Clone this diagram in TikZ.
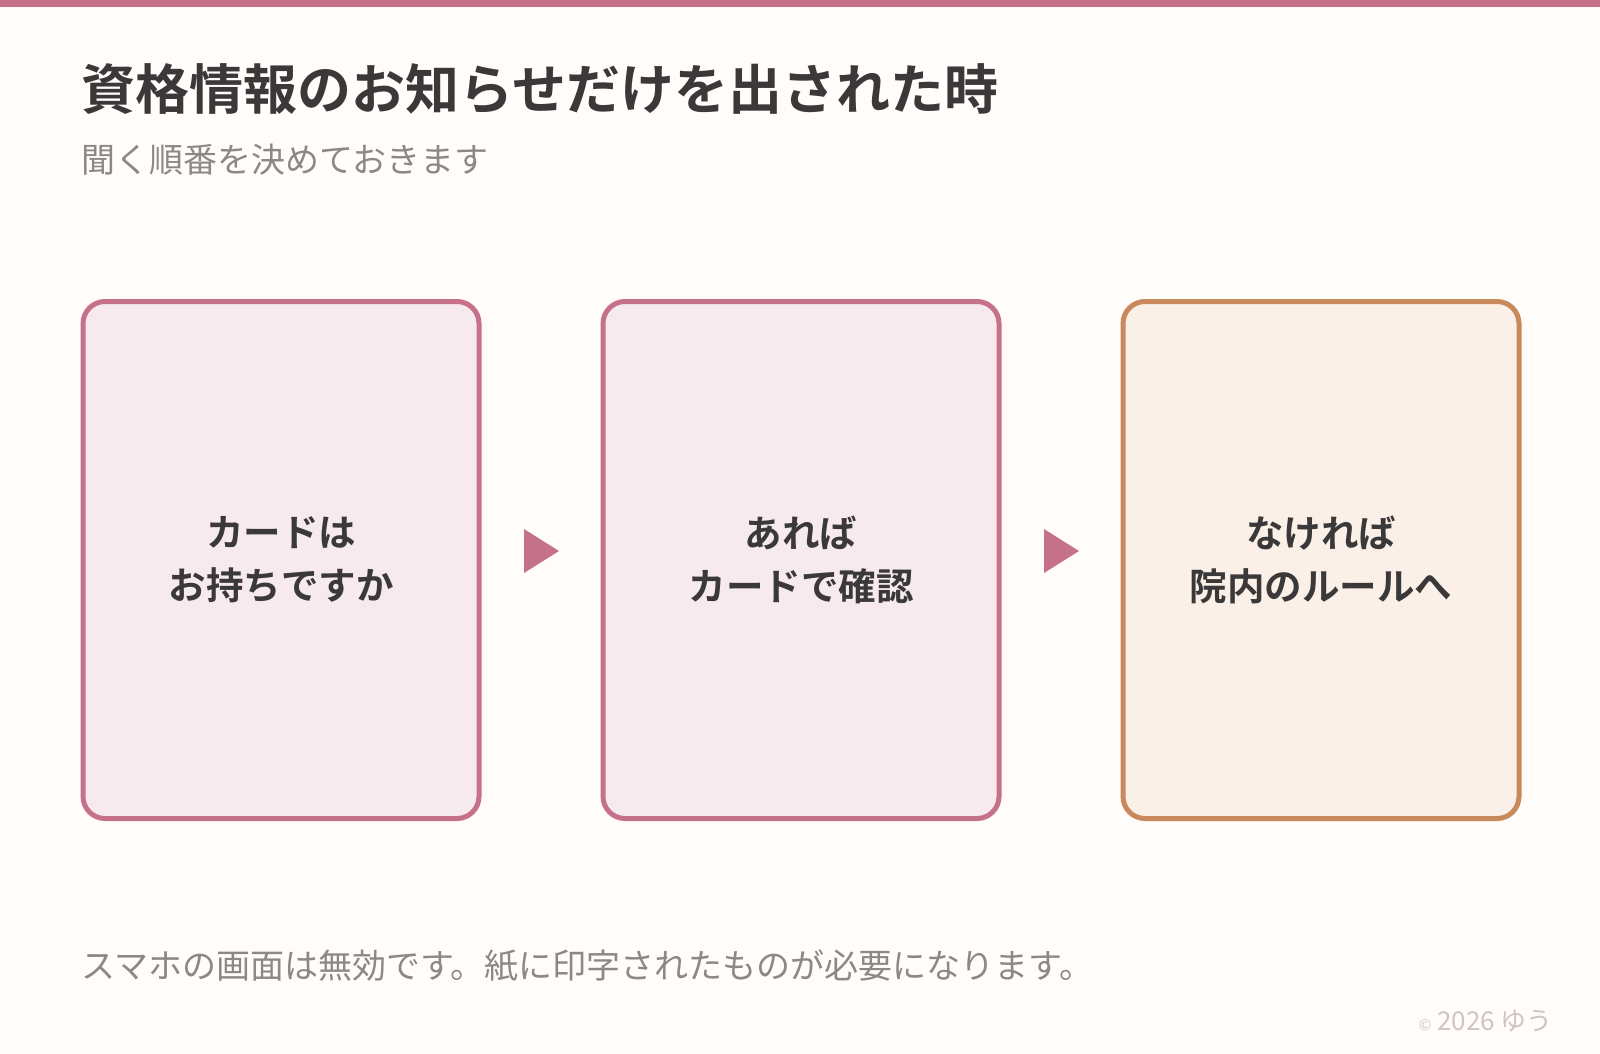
\documentclass[tikz,border=0pt]{standalone}
\usepackage{fontspec}
\usetikzlibrary{calc}
\setmainfont{Noto Sans CJK JP}
\newfontfamily\jpb{Noto Sans CJK JP Bold}
\definecolor{bg}{HTML}{FFFCFA}
\definecolor{rose}{HTML}{C6718A}
\definecolor{rosefill}{HTML}{F6EAEF}
\definecolor{ora}{HTML}{C98A5B}
\definecolor{orafill}{HTML}{FBF0E8}
\definecolor{dark}{HTML}{3A3838}
\definecolor{grey}{HTML}{8C8888}
\definecolor{light}{HTML}{CFC3C8}
\begin{document}
\begin{tikzpicture}[x=1pt,y=-1pt,
  card/.style={draw=rose,fill=rosefill,line width=5pt,rounded corners=22pt,minimum width=396pt,minimum height=517pt,inner sep=0pt,align=center,font=\jpb\fontsize{37.5}{53}\selectfont,text=dark},
  tri/.style={fill=rose}]
\useasboundingbox (0,0) rectangle (1600,1054);
\fill[bg] (0,0) rectangle (1600,1054);
\fill[rose] (0,0) rectangle (1600,7);
\node[anchor=base west,inner sep=0pt,text=dark,font=\jpb\fontsize{54}{64}\selectfont] (title) at (81,110) {資格情報のお知らせだけを出された時};
\node[anchor=base west,inner sep=0pt,text=grey,font=\fontsize{34}{40}\selectfont] (sub) at (81,172) {聞く順番を決めておきます};
\node[card] (a) at (281,560) {カードは\\お持ちですか};
\node[card] (b) at (801,560) {あれば\\カードで確認};
\node[card,draw=ora,fill=orafill] (c) at (1321,560) {なければ\\院内のルールへ};
\coordinate (t1) at ($(a.east)!0.5!(b.west)+(0,-9)$);
\coordinate (t2) at ($(b.east)!0.5!(c.west)+(0,-9)$);
\fill[rose] ([xshift=-17pt,yshift=-22pt]t1) -- ([xshift=18pt]t1) -- ([xshift=-17pt,yshift=22pt]t1) -- cycle;
\fill[rose] ([xshift=-17pt,yshift=-22pt]t2) -- ([xshift=18pt]t2) -- ([xshift=-17pt,yshift=22pt]t2) -- cycle;
\node[anchor=base west,inner sep=0pt,text=grey,font=\fontsize{34}{40}\selectfont] (foot) at (81,978) {スマホの画面は無効です。紙に印字されたものが必要になります。};
\node[anchor=base east,inner sep=0pt,text=light,font=\fontsize{26}{30}\selectfont] (copy) at (1553,1030) {{\fontsize{15}{16}\selectfont ©} 2026 ゆう};
\end{tikzpicture}
\end{document}
